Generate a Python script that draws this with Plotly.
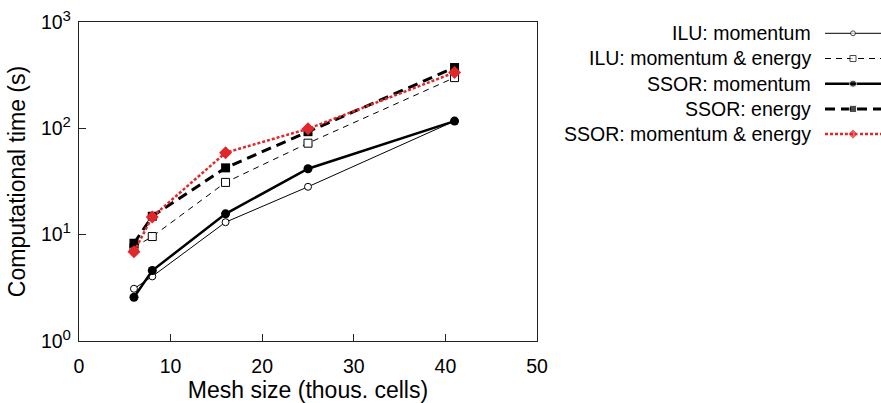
import plotly.graph_objects as go

# ---- data ----
mesh = [6, 8, 16, 25, 41]
ilu_mom = [3.1, 4.05, 13.1, 28.2, 117]
ilu_mom_en = [7.6, 9.6, 31, 72.5, 300]
ssor_mom = [2.58, 4.6, 15.7, 41.7, 117]
ssor_en = [8.3, 14.9, 42.5, 93, 373]
ssor_mom_en = [6.9, 14.7, 59, 99, 335]
names = ["ILU: momentum", "ILU: momentum &amp; energy", "SSOR: momentum",
         "SSOR: energy", "SSOR: momentum &amp; energy"]
ytickvals = [1, 10, 100, 1000]
yticktext = ["10<sup><span style='font-size:15px'>0</span></sup>",
             "10<sup><span style='font-size:15px'>1</span></sup>",
             "10<sup><span style='font-size:15px'>2</span></sup>",
             "10<sup><span style='font-size:15px'>3</span></sup>"]

RED = "#e0282a"
FONT = "Liberation Sans, Arial, sans-serif"
FS = 19.5

styles = [
    dict(line=dict(color="black", width=1),
         marker=dict(symbol="circle", size=7, color="white", line=dict(color="black", width=1))),
    dict(line=dict(color="black", width=1, dash="6px,5px"),
         marker=dict(symbol="square", size=8, color="white", line=dict(color="black", width=1))),
    dict(line=dict(color="black", width=2.5),
         marker=dict(symbol="circle", size=9, color="black")),
    dict(line=dict(color="black", width=3, dash="10px,6px"),
         marker=dict(symbol="square", size=9, color="black")),
    dict(line=dict(color=RED, width=2.5, dash="3px,2px"),
         marker=dict(symbol="diamond", size=10, color=RED)),
]
series = [ilu_mom, ilu_mom_en, ssor_mom, ssor_en, ssor_mom_en]

fig = go.Figure()
for s, st, nm in zip(series, styles, names):
    fig.add_trace(go.Scatter(x=mesh, y=s, mode="lines+markers", name=nm,
                             line=st["line"], marker=st["marker"],
                             showlegend=False, xaxis="x", yaxis="y"))

# custom legend: text on the left, sample on the right
leg_scale = [0.7, 0.75, 0.8, 0.8, 0.8]
for i, (st, nm) in enumerate(zip(styles, names)):
    mk = dict(st["marker"])
    sz = mk["size"] * leg_scale[i]
    mk = dict(mk, size=[0, sz, 0])
    fig.add_trace(go.Scatter(x=[0, 0.5, 1], y=[i, i, i], mode="lines+markers",
                             line=st["line"], marker=mk, showlegend=False,
                             hoverinfo="skip", xaxis="x2", yaxis="y2"))
    fig.add_annotation(x=0, y=i, xref="x2", yref="y2", text=nm, showarrow=False,
                       xanchor="right", yanchor="middle", xshift=-12,
                       font=dict(family=FONT, size=FS, color="black"))

W, H = 881, 403
L, T, B = 79, 10, 62
pw = W - L
ph = H - T - B

fig.update_layout(
    width=W, height=H,
    margin=dict(l=L, r=0, t=T, b=B, pad=0),
    paper_bgcolor="white", plot_bgcolor="white",
    font=dict(family=FONT, size=FS, color="black"),
    xaxis=dict(domain=[0, 458 / pw], range=[0, 50], dtick=10, tick0=0,
               ticks="inside", ticklen=7, tickcolor="#222", tickwidth=1,
               showline=True, linecolor="#222", linewidth=1.3, mirror=True,
               showgrid=False, zeroline=False, ticklabelstandoff=7,
               title=dict(text="Mesh size (thous. cells)", standoff=12),
               tickfont=dict(size=FS), automargin=False),
    yaxis=dict(domain=[0, (341 - 22) / ph], type="log", range=[0, 3],
               tickvals=ytickvals, ticktext=yticktext,
               ticks="inside", ticklen=7, tickcolor="#222", tickwidth=1,
               showline=True, linecolor="#222", linewidth=1.3, mirror=True,
               showgrid=False, zeroline=False, ticklabelstandoff=3,
               title=dict(text="Computational time (s)", standoff=8),
               tickfont=dict(size=FS), automargin=False),
    xaxis2=dict(domain=[(825 - L) / pw, 1], range=[0, 1], visible=False,
                anchor="y2", fixedrange=True),
    yaxis2=dict(domain=[(341 - 146.7) / ph, (341 - 20.7) / ph], range=[4.5, -0.5],
                visible=False, anchor="x2", fixedrange=True),
    showlegend=False,
)

fig.write_html("out.html", config={"displayModeBar": False},
               post_script="document.body.style.margin='0';")
